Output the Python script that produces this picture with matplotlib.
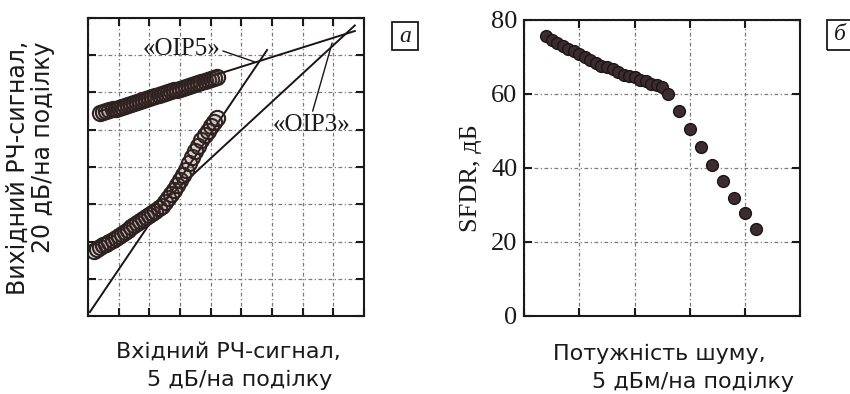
import matplotlib
matplotlib.use("Agg")
import matplotlib.pyplot as plt
from matplotlib.patches import Rectangle

# ---------------- data: panel a (input sweep, dB) ----------------
input_db = [1.0, 1.5, 2.0, 2.5, 3.0, 3.5, 4.0, 4.5, 5.0, 5.5, 6.0, 6.5, 7.0, 7.5,
            8.0, 8.5, 9.0, 9.5, 10.0, 10.5, 11.0, 11.5, 12.0, 12.5, 13.0, 13.5,
            14.0, 14.5, 15.0, 15.5, 16.0, 16.5, 17.0, 17.5, 18.0, 18.5, 19.0,
            19.5, 20.0, 20.5, 21.0]
im_out_db = [35.1, 36.1, 37.0, 37.9, 38.9, 39.8, 40.7, 41.7, 42.7, 43.9, 45.1,
             46.4, 47.6, 48.9, 50.1, 51.2, 52.1, 53.0, 54.0, 55.2, 56.5, 57.9,
             59.3, 61.3, 63.5, 65.6, 67.8, 70.3, 73.0, 75.7, 78.6, 82.0, 85.4,
             88.7, 91.5, 94.3, 97.1, 99.5, 101.8, 104.1, 106.3]
fund_in_db = input_db[2:]
fund_out_db = [108.8, 109.4, 109.9, 110.4, 110.9, 111.4, 111.9, 112.4, 112.9,
               113.4, 113.9, 114.4, 115.0, 115.5, 116.0, 116.5, 117.0, 117.5,
               118.0, 118.5, 119.1, 119.6, 120.1, 120.6, 121.1, 121.6, 122.1,
               122.6, 123.2, 123.7, 124.2, 124.7, 125.2, 125.7, 126.2, 126.7,
               127.3, 127.8, 128.3]
# fitted straight lines
fund_line_x = [2.0, 43.5]
fund_line_y = [110.0, 153.0]
oip3_line_x = [13.0, 43.5]
oip3_line_y = [63.4, 156.0]
oip5_line_x = [0.3, 29.2]
oip5_line_y = [2.1, 142.8]

# ---------------- data: panel б (SFDR vs noise power) ----------------
noise_dbm = [2.0, 2.5, 3.0, 3.5, 4.0, 4.5, 5.0, 5.5, 6.0, 6.5, 7.0, 7.5, 8.0,
             8.5, 9.0, 9.5, 10.0, 10.5, 11.0, 11.5, 12.0, 12.5, 13.0,
             14.0, 15.0, 16.0, 17.0, 18.0, 19.0, 20.0, 21.0]
sfdr_db = [75.6, 74.5, 73.7, 72.9, 72.2, 71.5, 70.9, 70.0, 69.3, 68.4, 67.7,
           67.2, 66.7, 65.9, 65.1, 64.9, 64.6, 63.8, 63.4, 62.8, 62.3, 61.8,
           60.0, 55.3, 50.6, 45.7, 40.7, 36.6, 32.0, 27.8, 23.6]
sfdr_yticks = [0, 20, 40, 60, 80]

W, H = 850, 394
fig = plt.figure(figsize=(W / 100, H / 100), dpi=100)
fig.patch.set_facecolor("white")

def fx(px):
    return px / W

def fy(py):
    return 1 - py / H

grid_kw = dict(color="#7a7a7a", lw=0.9, linestyle=(0, (3, 2, 1, 2)))
serif = ["Liberation Serif", "DejaVu Serif"]

def style_axes(ax):
    for s in ax.spines.values():
        s.set_linewidth(1.5)
        s.set_color("#1a1a1a")
    ax.tick_params(direction="in", length=6, width=1.5, top=True, right=True,
                   colors="#1a1a1a")
    ax.grid(True, **grid_kw)
    ax.set_axisbelow(True)

# ---------------- panel a ----------------
axa = fig.add_axes([fx(88), fy(316), fx(364 - 88), (316 - 18) / H])
axa.set_xlim(0, 45)
axa.set_ylim(0, 160)
axa.set_xticks(range(0, 46, 5))
axa.set_yticks(range(0, 161, 20))
axa.set_xticklabels([])
axa.set_yticklabels([])
style_axes(axa)

line_c = "#1c1414"
axa.plot(oip5_line_x, oip5_line_y, color=line_c, lw=1.4)
axa.plot(oip3_line_x, oip3_line_y, color=line_c, lw=1.4)
axa.plot(fund_line_x, fund_line_y, color=line_c, lw=1.4)

mk = dict(ls="none", marker="o", ms=11, mfc=(0.36, 0.26, 0.24, 0.13),
          mec="#2e2220", mew=1.5)
axa.plot(input_db, im_out_db, **mk)
axa.plot(fund_in_db, fund_out_db, **mk)

axa.annotate("«OIP5»", xy=(27.2, 136.4), xytext=(15.2, 143.4), ha="center",
             va="center", fontsize=18, family=serif, color="#1a1a1a",
             arrowprops=dict(arrowstyle="-", lw=1.0, color=line_c,
                             relpos=(1.0, 0.45), shrinkA=0, shrinkB=0))
axa.annotate("«OIP3»", xy=(39.8, 146.6), xytext=(36.5, 102.6), ha="center",
             va="center", fontsize=18, family=serif, color="#1a1a1a",
             arrowprops=dict(arrowstyle="-", lw=1.0, color=line_c,
                             relpos=(0.5, 1.0), shrinkA=0, shrinkB=0))

# ---------------- panel б ----------------
axb = fig.add_axes([fx(524.3), fy(316), fx(800 - 524.3), (316 - 20) / H])
axb.set_xlim(0, 25)
axb.set_ylim(0, 80)
axb.set_xticks(range(0, 26, 5))
axb.set_xticklabels([])
axb.set_yticks(sfdr_yticks)
axb.set_yticklabels([str(v) for v in sfdr_yticks], family=serif, fontsize=19)
style_axes(axb)
axb.tick_params(axis="y", pad=5)
axb.plot(noise_dbm, sfdr_db, ls="none", marker="o", ms=8.5, mfc="#3b2c2f",
         mec="#1c1416", mew=1.0)

# ---------------- labels ----------------
fig.text(fx(18), fy(168), "Вихідний РЧ-сигнал,", rotation=90, ha="center",
         va="center", fontsize=17, color="#1a1a1a")
fig.text(fx(43), fy(147), "20 дБ/на поділку", rotation=90, ha="center",
         va="center", fontsize=17, color="#1a1a1a")
fig.text(fx(471), fy(178), "SFDR, дБ", rotation=90, ha="center", va="center",
         fontsize=19, family=serif, color="#1a1a1a")

fig.text(fx(228), fy(352), "Вхідний РЧ-сигнал,", ha="center", va="center",
         fontsize=16, color="#1a1a1a")
fig.text(fx(240), fy(380), "5 дБ/на поділку", ha="center", va="center",
         fontsize=16, color="#1a1a1a")
fig.text(fx(659), fy(354), "Потужність шуму,", ha="center", va="center",
         fontsize=16, color="#1a1a1a")
fig.text(fx(693), fy(382), "5 дБм/на поділку", ha="center", va="center",
         fontsize=16, color="#1a1a1a")

# panel letter boxes
fig.patches.append(Rectangle((fx(392), fy(50)), fx(26), 28 / H, transform=fig.transFigure,
                             fill=False, ec="#1a1a1a", lw=1.3))
fig.text(fx(405), fy(36), "а", ha="center", va="center", fontsize=17,
         family=serif, style="italic", color="#1a1a1a")
fig.patches.append(Rectangle((fx(827), fy(50)), fx(28), 30 / H, transform=fig.transFigure,
                             fill=False, ec="#1a1a1a", lw=1.3))
fig.text(fx(840), fy(35), "б", ha="center", va="center", fontsize=17,
         family=serif, style="italic", color="#1a1a1a")

fig.savefig("out.png", dpi=100)
